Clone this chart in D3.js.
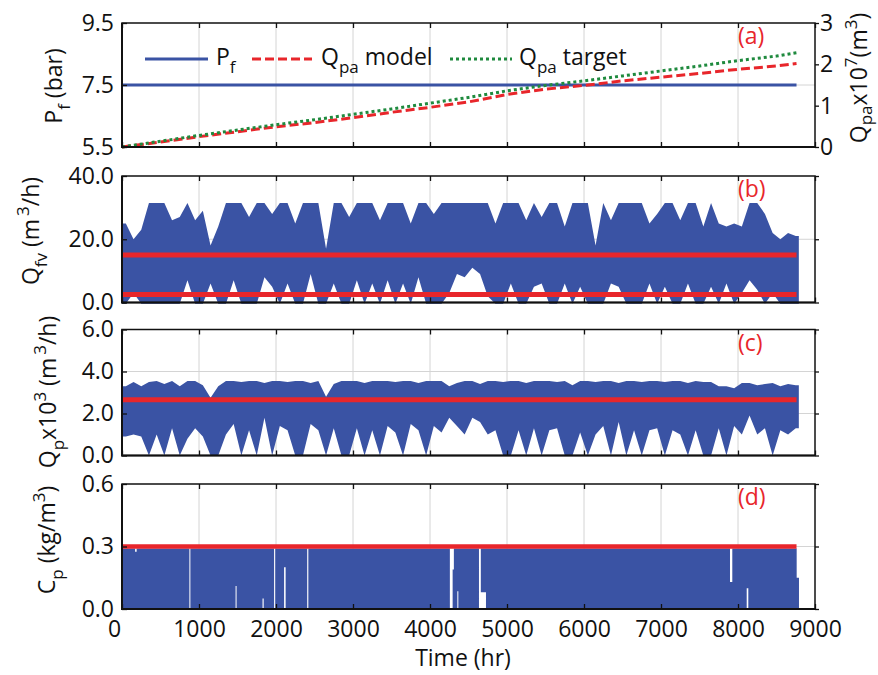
<!DOCTYPE html>
<html>
<head>
<meta charset="utf-8">
<script src="https://cdn.jsdelivr.net/npm/d3@7"></script>
<style>
body { margin: 0; background: #fff; }
svg text { font-family: "Open Sans", sans-serif; fill: #111; }
</style>
</head>
<body>
<svg id="chart" width="878" height="675"></svg>
<script>
// ---- data ----
// hourly series are kept as 100 h bins: upper / lower envelope of each bin
var binStart = d3.range(0, 8800, 100);
var tEnd = 8790;

var qfvHi = [25, 20, 23, 31.5, 31.5, 31.5, 26, 27, 31.5, 26,
  29, 18, 24, 31.5, 31.5, 31.5, 27, 31.5, 31.5, 28,
  31.5, 31.5, 25, 31.5, 31.5, 31.5, 17, 31.5, 31.5, 27,
  31.5, 31.5, 31.5, 26, 31.5, 31.5, 31.5, 25, 31.5, 31.5,
  28, 31.5, 31.5, 31.5, 31.5, 31.5, 31.5, 31.5, 25, 31.5,
  31.5, 31.5, 26, 31.5, 27, 31.5, 31.5, 24, 31.5, 31.5,
  31.5, 18, 31.5, 26, 31.5, 31.5, 31.5, 31.5, 25, 28,
  31.5, 31.5, 26, 31.5, 31.5, 24, 31.5, 25, 24, 25,
  24, 31.5, 31.5, 28, 22, 20, 22, 21];
var qfvLo = [-0.4, 3, -0.4, -0.4, -0.4, -0.4, -0.4, -0.4, 7, -0.4,
  -0.4, 6, -0.4, -0.4, 7, -0.4, -0.4, -0.4, 8, 5,
  -0.4, 6, -0.4, -0.4, 9, -0.4, -0.4, 6, -0.4, -0.4,
  7, -0.4, 6, -0.4, 7, -0.4, 6, -0.4, 8, -0.4,
  -0.4, -0.4, 3, 9, 8, 11, 9, 2, -0.4, -0.4,
  6, -0.4, -0.4, 5, 6, -0.4, -0.4, 6, -0.4, 5,
  -0.4, -0.4, -0.4, 6, 5, -0.4, -0.4, -0.4, 6, -0.4,
  5, -0.4, -0.4, 6, -0.4, -0.4, 5, -0.4, 6, -0.4,
  3, 7, 4, -0.4, 3, -0.4, -0.4, -0.4];

var qpHi = [3.3, 3.5, 3.3, 3.5, 3.55, 3.4, 3.55, 3.3, 3.55, 3.55,
  3.35, 2.75, 3.3, 3.55, 3.55, 3.5, 3.55, 3.55, 3.45, 3.55,
  3.55, 3.5, 3.55, 3.55, 3.45, 3.55, 2.8, 3.4, 3.55, 3.55,
  3.55, 3.45, 3.55, 3.55, 3.55, 3.5, 3.55, 3.55, 3.45, 3.55,
  3.55, 3.55, 3.3, 3.45, 3.55, 3.55, 3.4, 3.55, 3.55, 3.5,
  3.55, 3.55, 3.45, 3.55, 3.55, 3.55, 3.5, 3.55, 3.35, 3.55,
  3.55, 3.5, 3.55, 3.55, 3.45, 3.55, 3.55, 3.5, 3.55, 3.55,
  3.5, 3.55, 3.55, 3.45, 3.55, 3.5, 3.5, 3.3, 3.3, 3.2,
  3.45, 3.45, 3.35, 3.4, 3.45, 3.3, 3.4, 3.35];
var qpLo = [0.9, 1.0, 0.9, 0, 1.0, 0, 1.3, 0, 0.8, 1.3,
  0.9, 0, 0, 1.0, 1.5, 0, 1.2, 0, 1.8, 0,
  1.4, 1.2, 0, 0, 1.5, 1.2, 0, 1.3, 0, 0,
  1.3, 0, 1.2, 0, 1.4, 1.1, 0, 1.5, 1.2, 0,
  1.4, 1.1, 1.8, 1.4, 1.0, 1.8, 1.6, 1.0, 1.2, 0,
  0, 1.2, 0, 1.3, 0, 1.2, 1.3, 0, 0, 1.1,
  0, 1.0, 1.4, 0, 1.6, 0, 1.2, 0, 1.2, 1.3,
  0, 1.2, 1.0, 0, 1.2, 0, 0, 1.3, 0, 1.4,
  1.0, 1.9, 1.0, 1.3, 0, 1.2, 1.0, 1.3];

// C_p: breakpoints where the envelope changes
var cpT  = [0, 170, 190, 875, 888, 1475, 1488, 1825, 1840, 1975, 1990, 2105, 2125, 2405, 2420,
  4258, 4294, 4310, 4355, 4368, 4636, 4660, 4727, 7896, 7926, 8113, 8134, 8762, 8792];
var cpHi = [0.29, 0.275, 0.29, 0, 0.29, 0.29, 0.29, 0.29, 0.29, 0, 0.29, 0.29, 0.29, 0, 0.29,
  0, 0.19, 0.29, 0.29, 0.29, 0, 0.29, 0.29, 0.13, 0.29, 0.29, 0.29, 0.15, 0.15];
var cpLo = [0, 0, 0, 0, 0, 0.11, 0, 0.05, 0, 0, 0, 0.2, 0, 0, 0,
  0, 0, 0, 0.085, 0, 0, 0.08, 0, 0, 0, 0.1, 0, 0, 0];

// panel (a)
var pfT = [0, 8760];
var pf = [7.5, 7.5];
var qpaT = [0, 500, 1000, 1500, 2000, 2500, 3000, 3500, 4000, 4500, 5000,
  5500, 6000, 6500, 7000, 7500, 8000, 8500, 8760];
var qpaModel = [0, 0.12, 0.25, 0.37, 0.49, 0.59, 0.71, 0.84, 0.96, 1.09, 1.27,
  1.40, 1.49, 1.60, 1.69, 1.78, 1.88, 1.96, 2.02];
var qpaTarget = [0, 0.14, 0.28, 0.41, 0.54, 0.66, 0.79, 0.92, 1.06, 1.20, 1.36,
  1.49, 1.60, 1.72, 1.84, 1.96, 2.09, 2.20, 2.28];

// red reference levels
var qfvLimits = [15, 2.5];
var qpLimits = [2.65];
var cpLimits = [0.3];
var limitT = [0, 8760];

var xTicks = [0, 1000, 2000, 3000, 4000, 5000, 6000, 7000, 8000, 9000];

// ---- drawing ----
var BLUE = "#3a53a4", RED = "#e8262b", GREEN = "#1f8a3e", GRID = "#d4d4d4";
var svg = d3.select("#chart");
var x = d3.scaleLinear().domain([0, 9000]).range([122, 815]);

var panels = [
  {id: "a", top: 23, bottom: 147, domain: [5.5, 9.5], ticks: [5.5, 7.5, 9.5], grid: [7.5]},
  {id: "b", top: 176, bottom: 302.5, domain: [0, 40], ticks: [0, 20, 40], grid: [20]},
  {id: "c", top: 329.5, bottom: 455.5, domain: [0, 6], ticks: [0, 2, 4, 6], grid: [2, 4]},
  {id: "d", top: 484, bottom: 609, domain: [0, 0.6], ticks: [0, 0.3, 0.6], grid: [0.3]}
];
panels.forEach(function(p) {
  p.y = d3.scaleLinear().domain(p.domain).range([p.bottom, p.top]);
  p.g = svg.append("g");
});

function binPoints(hi, lo, centred) {
  var pts = binStart.map(function(t, i) {
    return {t: centred ? t + 50 : t, hi: hi[i], lo: lo[i]};
  });
  if (centred) pts.unshift({t: 0, hi: hi[0], lo: lo[0]});
  pts.push({t: tEnd, hi: hi[hi.length - 1], lo: lo[lo.length - 1]});
  return pts;
}

function drawGrid(p) {
  p.g.selectAll(".vg").data(xTicks.slice(1, -1)).enter().append("line")
    .attr("x1", x).attr("x2", x).attr("y1", p.top).attr("y2", p.bottom)
    .attr("stroke", GRID).attr("stroke-width", 1);
  p.g.selectAll(".hg").data(p.grid).enter().append("line")
    .attr("x1", x(0)).attr("x2", x(9000))
    .attr("y1", p.y).attr("y2", p.y)
    .attr("stroke", GRID).attr("stroke-width", 1);
}

function drawBand(p, pts, curve) {
  var area = d3.area()
    .x(function(d) { return x(d.t); })
    .y0(function(d) { return p.y(d.lo); })
    .y1(function(d) { return p.y(d.hi); })
    .curve(curve);
  p.g.append("path").datum(pts).attr("d", area).attr("fill", BLUE);
}

function drawLimits(p, levels, w) {
  p.g.selectAll(".lim").data(levels).enter().append("line")
    .attr("x1", x(limitT[0])).attr("x2", x(limitT[1]))
    .attr("y1", p.y).attr("y2", p.y)
    .attr("stroke", RED).attr("stroke-width", w);
}

panels.forEach(drawGrid);

// (a)
var pa = panels[0];
var yR = d3.scaleLinear().domain([0, 3]).range([pa.bottom, pa.top]);
pa.g.append("path").datum(d3.zip(pfT, pf))
  .attr("d", d3.line().x(function(d) { return x(d[0]); }).y(function(d) { return pa.y(d[1]); }))
  .attr("fill", "none").attr("stroke", BLUE).attr("stroke-width", 3);
var qLine = d3.line().x(function(d) { return x(d[0]); }).y(function(d) { return yR(d[1]); });
pa.g.append("path").datum(d3.zip(qpaT, qpaModel)).attr("d", qLine)
  .attr("fill", "none").attr("stroke", RED).attr("stroke-width", 3).attr("stroke-dasharray", "9,4");
pa.g.append("path").datum(d3.zip(qpaT, qpaTarget)).attr("d", qLine)
  .attr("fill", "none").attr("stroke", GREEN).attr("stroke-width", 3).attr("stroke-dasharray", "3,3");

// (b) (c) (d)
drawBand(panels[1], binPoints(qfvHi, qfvLo, true), d3.curveLinear);
drawLimits(panels[1], qfvLimits, 5);
drawBand(panels[2], binPoints(qpHi, qpLo, true), d3.curveLinear);
drawLimits(panels[2], qpLimits, 5);
var cpPts = cpT.map(function(t, i) { return {t: t, hi: cpHi[i], lo: cpLo[i]}; });
drawBand(panels[3], cpPts, d3.curveStepAfter);
drawLimits(panels[3], cpLimits, 4.5);

// axes, ticks and frame
function styleAxis(g) {
  g.attr("font-size", null).attr("font-family", null);
  g.select(".domain").remove();
  g.selectAll(".tick line").attr("stroke", "#111").attr("stroke-width", 1.3);
  g.selectAll(".tick text").style("font-size", "23px").attr("fill", "#111");
}

panels.forEach(function(p, i) {
  var last = i === panels.length - 1;
  p.g.append("g").attr("transform", "translate(" + x(0) + ",0)")
    .call(d3.axisLeft(p.y).tickValues(p.ticks).tickFormat(d3.format(".1f"))
      .tickSizeInner(-5).tickSizeOuter(0).tickPadding(8))
    .call(styleAxis);
  p.g.append("g").attr("transform", "translate(0," + p.top + ")")
    .call(d3.axisTop(x).tickValues(xTicks).tickFormat("").tickSizeInner(-5).tickSizeOuter(0))
    .call(styleAxis);
  var bx = p.g.append("g").attr("transform", "translate(0," + p.bottom + ")")
    .call(d3.axisBottom(x).tickValues(xTicks).tickFormat(last ? d3.format("d") : "")
      .tickSizeInner(-5).tickSizeOuter(0).tickPadding(12))
    .call(styleAxis);
  bx.selectAll(".tick text").filter(function(d) { return d === 0; }).attr("dx", -8);
  var ra = p.g.append("g").attr("transform", "translate(" + x(9000) + ",0)");
  if (i === 0) {
    ra.call(d3.axisRight(yR).tickValues([0, 1, 2, 3]).tickFormat(d3.format("d"))
      .tickSizeInner(4).tickSizeOuter(0).tickPadding(1));
  } else {
    ra.call(d3.axisRight(p.y).tickValues(p.ticks).tickFormat("").tickSizeInner(4).tickSizeOuter(0));
  }
  ra.call(styleAxis);
  p.g.append("rect").attr("x", x(0)).attr("y", p.top)
    .attr("width", x(9000) - x(0)).attr("height", p.bottom - p.top)
    .attr("fill", "none").attr("stroke", "#111").attr("stroke-width", 1.5);
  p.g.append("path")
    .attr("d", "M" + x(0) + "," + p.top + "V" + p.bottom + "H" + x(9000))
    .attr("fill", "none").attr("stroke", "#111").attr("stroke-width", 2);
  p.g.append("text").attr("x", 738).attr("y", p.top + 21)
    .style("font-size", "23px").style("fill", RED).text("(" + p.id + ")");
});

// rich text helper: parts with sub / sup
function rich(sel, parts, subShift) {
  var shift = 0;
  var down = subShift === undefined ? 8 : subShift;
  parts.forEach(function(q) {
    var target = q.sub ? down : (q.sup ? -10 : 0);
    var ts = sel.append("tspan").attr("dy", target - shift).text(q.t);
    if (q.sub || q.sup) ts.style("font-size", "17px");
    if (q.dx) ts.attr("dx", q.dx);
    shift = target;
  });
}

function yLabel(cx, cy, parts, subShift) {
  var t = svg.append("text").attr("transform", "translate(" + cx + "," + cy + ") rotate(-90)")
    .attr("text-anchor", "middle").style("font-size", "23px");
  rich(t, parts, subShift);
}

yLabel(62, 86, [{t: "P"}, {t: "f", sub: true}, {t: " (bar)"}]);
yLabel(39, 231, [{t: "Q"}, {t: "fv", sub: true}, {t: " (m"}, {t: "3", sup: true, dx: 3}, {t: "/h)"}]);
yLabel(56, 392, [{t: "Q"}, {t: "p", sub: true}, {t: "x10"}, {t: "3", sup: true}, {t: " (m"},
  {t: "3", sup: true, dx: 3}, {t: "/h)"}]);
yLabel(55, 540, [{t: "C"}, {t: "p", sub: true}, {t: "  (kg/m"}, {t: "3", sup: true}, {t: ")"}]);
yLabel(867, 78, [{t: "Q"}, {t: "pa", sub: true}, {t: "x10"}, {t: "7", sup: true}, {t: "(m"},
  {t: "3", sup: true}, {t: ")"}], 5);

svg.append("text").attr("x", 463).attr("y", 666).attr("text-anchor", "middle")
  .style("font-size", "23px").text("Time (hr)");

// legend in (a)
var legend = [
  {x1: 145, x2: 208, color: BLUE, dash: null, tx: 216, parts: [{t: "P"}, {t: "f", sub: true}]},
  {x1: 252, x2: 312, color: RED, dash: "9,4", tx: 321, parts: [{t: "Q"}, {t: "pa", sub: true}, {t: " model"}]},
  {x1: 450, x2: 512, color: GREEN, dash: "3,3", tx: 519, parts: [{t: "Q"}, {t: "pa", sub: true}, {t: " target"}]}
];
var lg = svg.append("g");
legend.forEach(function(l) {
  lg.append("line").attr("x1", l.x1).attr("x2", l.x2).attr("y1", 59).attr("y2", 59)
    .attr("stroke", l.color).attr("stroke-width", 3).attr("stroke-dasharray", l.dash);
  var t = lg.append("text").attr("x", l.tx).attr("y", 65).style("font-size", "23px");
  rich(t, l.parts);
});
</script>
</body>
</html>
